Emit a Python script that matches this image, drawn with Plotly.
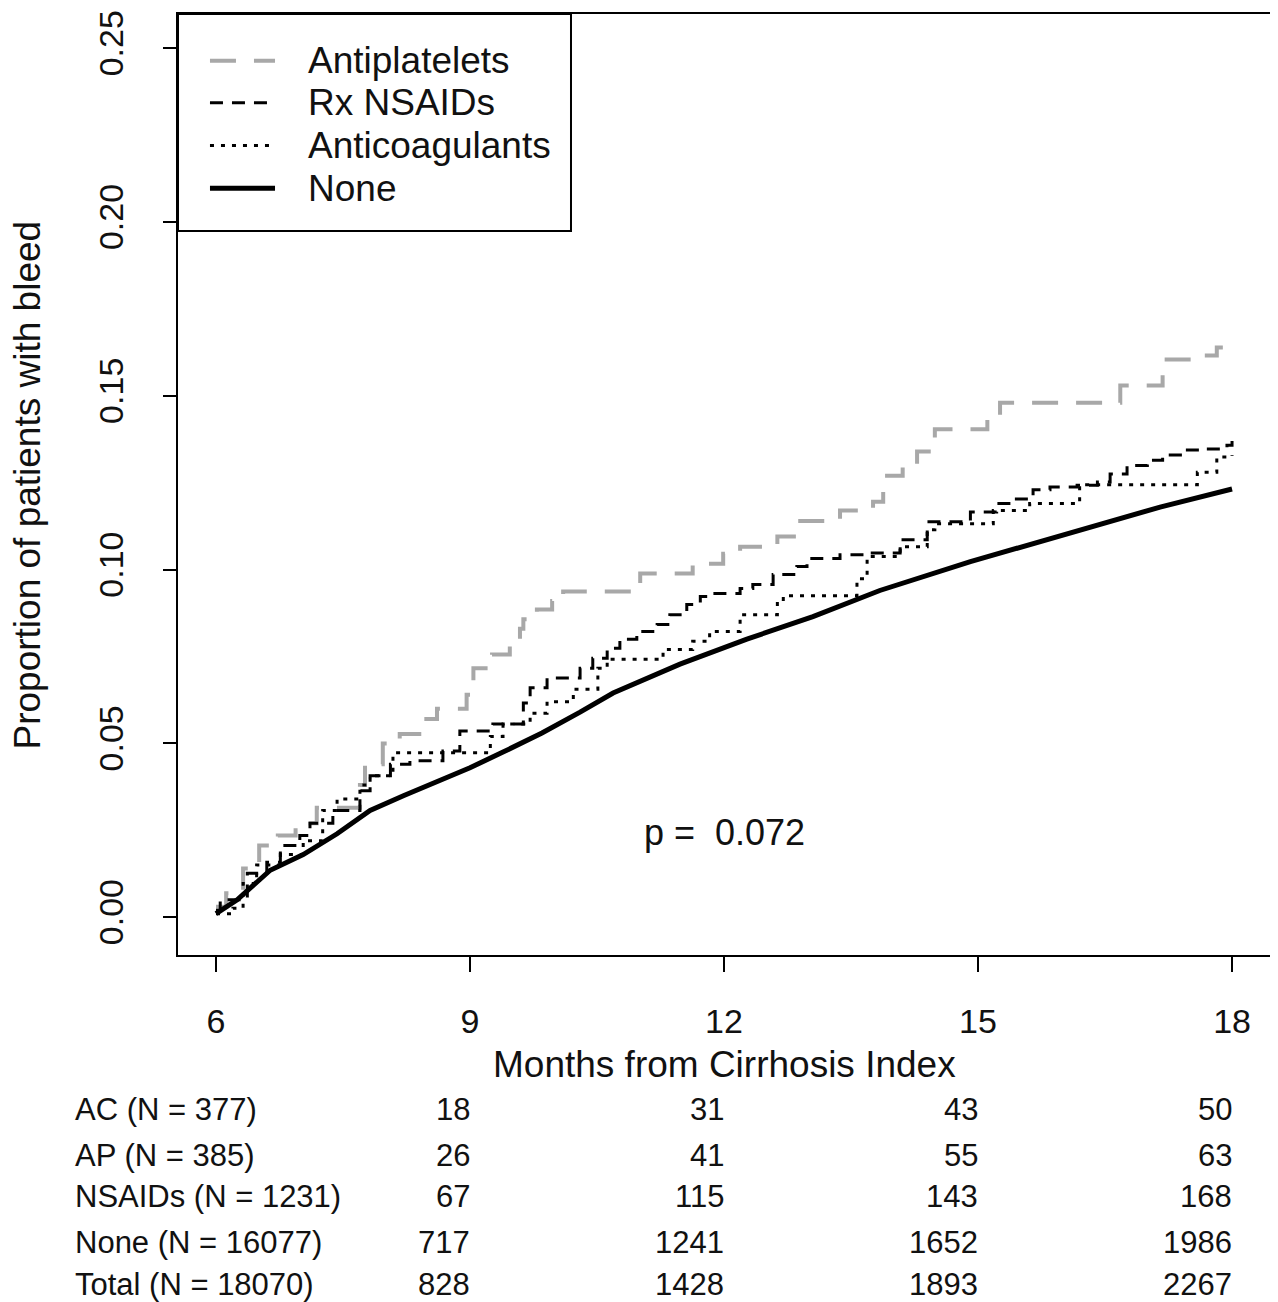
import plotly.graph_objects as go

# ---------------- data ----------------
ap_t = [6.00, 6.12, 6.32, 6.51, 6.73, 6.94, 7.19, 7.70, 7.76, 7.97, 8.17, 8.44, 8.61, 8.96, 9.04,
        9.26, 9.47, 9.59, 9.63, 9.79, 9.97, 10.10, 11.01, 11.63, 11.99, 12.19, 12.63, 12.90, 13.37,
        13.76, 13.88, 14.11, 14.28, 14.49, 15.11, 15.26, 16.68, 17.18, 17.54, 17.82, 18.00]
ap_v = [0.003, 0.0069, 0.014, 0.0206, 0.0235, 0.027, 0.0315, 0.038, 0.044, 0.050, 0.0527, 0.057, 0.060,
        0.064, 0.0716, 0.0756, 0.079, 0.083, 0.0857, 0.0885, 0.091, 0.0937, 0.0989, 0.1017, 0.1046,
        0.1066, 0.1095, 0.114, 0.117, 0.1195, 0.127, 0.130, 0.134, 0.1404, 0.1433, 0.148, 0.153,
        0.1605, 0.1616, 0.1639, 0.1645]

nsaid_t = [6.00, 6.05, 6.37, 6.60, 6.76, 6.99, 7.11, 7.38, 7.70, 7.82, 8.06, 8.29, 8.68, 8.88, 9.27,
           9.63, 9.71, 9.91, 10.30, 10.45, 10.62, 10.77, 10.97, 11.21, 11.36, 11.56, 11.72, 11.83,
           12.19, 12.34, 12.58, 12.86, 12.98, 13.37, 13.69, 14.08, 14.40, 14.91, 15.22, 15.41, 15.65,
           15.85, 16.17, 16.41, 16.56, 16.76, 17.00, 17.18, 17.39, 17.70, 17.94, 18.00]
nsaid_v = [0.002, 0.005, 0.0126, 0.0158, 0.0206, 0.0235, 0.027, 0.0307, 0.0364, 0.0407, 0.044, 0.045,
           0.0478, 0.0536, 0.0556, 0.0616, 0.066, 0.0688, 0.0716, 0.0745, 0.0774, 0.080, 0.0822, 0.0842,
           0.087, 0.090, 0.0923, 0.0931, 0.0946, 0.0957, 0.0986, 0.1009, 0.1032, 0.1043, 0.1048, 0.1086,
           0.1138, 0.1166, 0.119, 0.1203, 0.123, 0.1238, 0.1243, 0.1252, 0.1275, 0.130, 0.1315, 0.133,
           0.1344, 0.1347, 0.1358, 0.137]

ac_t = [6.00, 6.20, 6.32, 6.48, 6.76, 7.03, 7.26, 7.43, 7.70, 7.82, 8.09, 9.24, 9.39, 9.71, 9.91,
        10.22, 10.51, 10.62, 11.28, 11.63, 11.83, 12.19, 12.63, 12.70, 13.57, 13.69, 14.08, 14.40,
        14.49, 15.18, 15.61, 16.20, 17.59, 17.82, 18.00]
ac_v = [0.001, 0.0026, 0.0097, 0.015, 0.018, 0.022, 0.0307, 0.034, 0.038, 0.0407, 0.0473, 0.052,
        0.0556, 0.0587, 0.062, 0.0656, 0.0716, 0.0742, 0.077, 0.0794, 0.0822, 0.087, 0.0908, 0.0925,
        0.0974, 0.1038, 0.1066, 0.1115, 0.1132, 0.117, 0.119, 0.1244, 0.128, 0.1324, 0.133]

none_t = [6.00, 6.25, 6.64, 7.03, 7.43, 7.82, 8.22, 8.61, 9.00, 9.39, 9.85, 10.30, 10.69, 11.48,
          12.27, 13.05, 13.84, 14.91, 15.58, 16.36, 17.15, 18.00]
none_v = [0.001, 0.005, 0.0135, 0.018, 0.024, 0.0307, 0.035, 0.039, 0.043, 0.0475, 0.0530, 0.0590,
          0.0645, 0.0728, 0.0800, 0.0865, 0.0940, 0.1023, 0.1070, 0.1125, 0.1180, 0.1232]

x_ticks = [6, 9, 12, 15, 18]
y_ticks = [0.00, 0.05, 0.10, 0.15, 0.20, 0.25]
y_ticktext = ["0.00", "0.05", "0.10", "0.15", "0.20", "0.25"]

series_names = ["Antiplatelets", "Rx NSAIDs", "Anticoagulants", "None"]

risk_labels = ["AC (N = 377)", "AP (N = 385)", "NSAIDs (N = 1231)", "None (N = 16077)", "Total (N = 18070)"]
risk_times = [9, 12, 15, 18]
risk_ac = [18, 31, 43, 50]
risk_ap = [26, 41, 55, 63]
risk_nsaid = [67, 115, 143, 168]
risk_none = [717, 1241, 1652, 1986]
risk_total = [828, 1428, 1893, 2267]

p_text = "p =\u00a0 0.072"

# ---------------- styles ----------------
FONT = "Liberation Sans, Arial, sans-serif"
styles = [
    dict(color="#A8A8A8", width=4, dash="26px,18px"),
    dict(color="black", width=3, dash="13px,9px"),
    dict(color="black", width=3, dash="4px,7px"),
    dict(color="black", width=5),
]
shapes_hv = ["hv", "hv", "hv", "linear"]

fig = go.Figure()
for name, xs, ys, st, sh in zip(series_names, [ap_t, nsaid_t, ac_t, none_t],
                                [ap_v, nsaid_v, ac_v, none_v], styles, shapes_hv):
    fig.add_trace(go.Scatter(x=xs, y=ys, mode="lines", name=name, line_shape=sh, line=st,
                             showlegend=False))

x_range = [5.5512, 18.4837]
y_range = [-0.010888, 0.259885]

# the page body has an 8px margin: figure is 8px smaller and shifted accordingly
fig.update_layout(
    width=1270, height=1294,
    margin=dict(l=170, r=5, t=2, b=347),
    paper_bgcolor="white", plot_bgcolor="white",
    font=dict(family=FONT, color="#111", size=34),
    showlegend=False,
    xaxis=dict(range=x_range, tickvals=x_ticks, ticks="outside", ticklen=15, tickwidth=2,
               tickcolor="black", showline=True, linecolor="black", linewidth=2, mirror=True,
               showgrid=False, zeroline=False, tickfont=dict(size=34), ticklabelstandoff=20),
    yaxis=dict(range=y_range, tickvals=y_ticks, ticktext=y_ticktext, ticks="outside", ticklen=13,
               tickwidth=2, tickcolor="black", showline=True, linecolor="black", linewidth=2,
               mirror=True, showgrid=False, zeroline=False, tickangle=-90, tickfont=dict(size=34),
               ticklabelstandoff=26),
)

ann = []
shp = []

# legend (drawn in R style: box at the top-left corner of the plot)
shp.append(dict(type="rect", xref="paper", yref="paper", x0=0, x1=0.3589, y0=0.7693, y1=1,
                line=dict(color="black", width=2), fillcolor="white", layer="above"))
leg_y = [0.9502, 0.9058, 0.8603, 0.8148]
for name, st, yy in zip(series_names, styles, leg_y):
    shp.append(dict(type="line", xref="paper", yref="paper", x0=0.0292, x1=0.0886, y0=yy, y1=yy,
                    line=st, layer="above"))
    ann.append(dict(text=name, x=0.1169, xref="paper", y=yy, yref="paper", showarrow=False,
                    xanchor="left", yanchor="middle", font=dict(size=37)))

ann.append(dict(text="Months from Cirrhosis Index", x=12, xref="x", y=-0.1164, yref="paper",
                showarrow=False, xanchor="center", yanchor="middle", font=dict(size=37)))
ann.append(dict(text="Proportion of patients with bleed", x=-0.137, xref="paper", y=0.5, yref="paper",
                showarrow=False, textangle=-90, xanchor="center", yanchor="middle", font=dict(size=37)))
ann.append(dict(text=p_text, x=12, xref="x", y=0.0244, yref="y", showarrow=False,
                xanchor="center", yanchor="middle", font=dict(size=36)))

row_y = [-0.164, -0.2127, -0.2571, -0.3058, -0.3503]
rows = [risk_ac, risk_ap, risk_nsaid, risk_none, risk_total]
for lab, yy, vals in zip(risk_labels, row_y, rows):
    ann.append(dict(text=lab, x=-0.0959, xref="paper", y=yy, yref="paper", showarrow=False,
                    xanchor="left", yanchor="middle", font=dict(size=31)))
    for t, v in zip(risk_times, vals):
        ann.append(dict(text=str(v), x=t, xref="x", y=yy, yref="paper", showarrow=False,
                        xanchor="right", yanchor="middle", xshift=2, font=dict(size=31)))

fig.update_layout(annotations=ann, shapes=shp)

fig.write_html("out.html")
